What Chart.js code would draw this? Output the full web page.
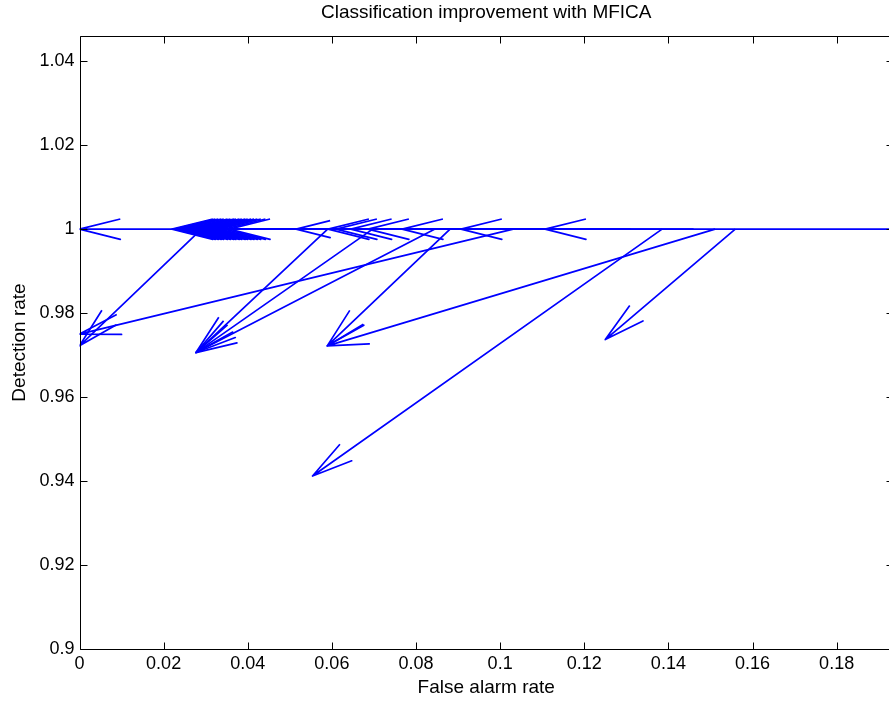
<!DOCTYPE html>
<html>
<head>
<meta charset="utf-8">
<title>Classification improvement with MFICA</title>
<script src="https://cdn.jsdelivr.net/npm/chart.js@4.4.1/dist/chart.umd.min.js"></script>
<style>
  html, body { margin: 0; padding: 0; background: #fff; overflow: hidden; }
  #wrap { position: absolute; left: 0; top: 0; width: 889px; height: 702px; overflow: hidden; }
</style>
</head>
<body>
<div id="wrap"><canvas id="quiver" width="896" height="702"></canvas></div>
<script>
// quiver data: each arrow goes from (tailX, tailY) to (tipX, tipY)
// first the arrows that stay on the 1.0 line, then the ones that drop
const tailX = [0.200,
               0.061, 0.064, 0.058, 0.070, 0.066, 0.073, 0.072, 0.081, 0.069, 0.077,
               0.084, 0.088, 0.079, 0.093, 0.091, 0.083, 0.068, 0.086, 0.075,
               0.076, 0.095, 0.098, 0.104, 0.112, 0.117, 0.131, 0.146,
               0.0290, 0.1031, 0.0590, 0.0697, 0.0844, 0.1511, 0.0881, 0.1385, 0.1559];
const tailY = [1,
               1, 1, 1, 1, 1, 1, 1, 1, 1, 1,
               1, 1, 1, 1, 1, 1, 1, 1, 1,
               1, 1, 1, 1, 1, 1, 1, 1,
               1, 1, 1, 1, 1, 1, 1, 1, 1];
const tipX  = [0,
               0.0220, 0.0226, 0.0233, 0.0240, 0.0246, 0.0255, 0.0262, 0.0270, 0.0275, 0.0283,
               0.0289, 0.0297, 0.0303, 0.0311, 0.0318, 0.0326, 0.0334, 0.0345, 0.0356,
               0.0515, 0.0591, 0.0610, 0.0645, 0.0686, 0.0767, 0.0907, 0.1107,
               0, 0, 0.0277, 0.0277, 0.0277, 0.0589, 0.0589, 0.0554, 0.1250];
const tipY  = [1,
               1, 1, 1, 1, 1, 1, 1, 1, 1, 1,
               1, 1, 1, 1, 1, 1, 1, 1, 1,
               1, 1, 1, 1, 1, 1, 1, 1,
               0.9722, 0.9750, 0.9706, 0.9706, 0.9706, 0.9722, 0.9722, 0.9412, 0.9737];

const xTickValues = [0, 0.02, 0.04, 0.06, 0.08, 0.1, 0.12, 0.14, 0.16, 0.18];
const xTickLabels = ['0', '0.02', '0.04', '0.06', '0.08', '0.1', '0.12', '0.14', '0.16', '0.18'];
const yTickValues = [0.9, 0.92, 0.94, 0.96, 0.98, 1, 1.02, 1.04];
const yTickLabels = ['0.9', '0.92', '0.94', '0.96', '0.98', '1', '1.02', '1.04'];

const X_MIN = 0, X_MAX = 0.1934;
const Y_MIN = 0.9, Y_MAX = 1.046;

// arrow head, in data units like quiver does it
const HEAD_MAX = 0.0097;
const HEAD_FRAC = 0.33;
const HEAD_HALF = 0.25;

const FONT = "'Liberation Sans', Arial, Helvetica, sans-serif";
const BLUE = '#0000ff';
const TICK_LEN = 7;

function arrowPoints(i) {
    const x0 = tailX[i], y0 = tailY[i], x1 = tipX[i], y1 = tipY[i];
    const dx = x1 - x0, dy = y1 - y0;
    const len = Math.hypot(dx, dy);
    const ux = dx / len, uy = dy / len;
    const h = Math.min(HEAD_MAX, HEAD_FRAC * len);
    const w = h * HEAD_HALF;
    const bx = x1 - h * ux, by = y1 - h * uy;
    return [
        { x: x0, y: y0 },
        { x: x1, y: y1 },
        { x: bx - w * uy, y: by + w * ux },
        { x: x1, y: y1 },
        { x: bx + w * uy, y: by - w * ux }
    ];
}

const datasets = tailX.map((_, i) => ({
    data: arrowPoints(i),
    showLine: true,
    borderColor: BLUE,
    borderWidth: 1.7,
    borderJoinStyle: 'round',
    pointRadius: 0,
    fill: false
}));

// matlab style box with inward ticks on all four sides
const boxPlugin = {
    id: 'matlabBox',
    afterDraw(chart) {
        const { ctx, chartArea: a, scales: { x, y } } = chart;
        ctx.save();
        ctx.strokeStyle = '#000';
        ctx.lineWidth = 1;
        ctx.beginPath();
        const l = Math.round(a.left) + 0.5, r = Math.round(a.right) + 0.5;
        const t = Math.round(a.top) + 0.5, b = Math.round(a.bottom) + 0.5;
        ctx.rect(l, t, r - l, b - t);
        x.ticks.forEach(tk => {
            const px = Math.round(x.getPixelForValue(tk.value)) + 0.5;
            ctx.moveTo(px, b); ctx.lineTo(px, b - TICK_LEN);
            ctx.moveTo(px, t); ctx.lineTo(px, t + TICK_LEN);
        });
        y.ticks.forEach(tk => {
            const py = Math.round(y.getPixelForValue(tk.value)) + 0.5;
            ctx.moveTo(l, py); ctx.lineTo(l + TICK_LEN, py);
            ctx.moveTo(r, py); ctx.lineTo(r - TICK_LEN, py);
        });
        ctx.stroke();
        ctx.restore();
    }
};

new Chart(document.getElementById('quiver'), {
    type: 'scatter',
    data: { datasets },
    options: {
        responsive: false,
        animation: false,
        layout: { padding: { left: 0, right: 3, top: 0, bottom: 0 } },
        plugins: {
            legend: { display: false },
            tooltip: { enabled: false },
            title: {
                display: true,
                fullSize: false,
                text: 'Classification improvement with MFICA',
                color: '#000',
                font: { family: FONT, size: 19, weight: 'normal' },
                padding: { top: 1, bottom: 12.2 }
            }
        },
        scales: {
            x: {
                type: 'linear',
                min: X_MIN,
                max: X_MAX,
                afterBuildTicks: s => { s.ticks = xTickValues.map(v => ({ value: v })); },
                afterFit: s => { s.height = 53; },
                grid: { display: false, drawTicks: false },
                border: { display: false },
                ticks: {
                    color: '#000',
                    font: { family: FONT, size: 18 },
                    padding: 4,
                    maxRotation: 0,
                    autoSkip: false,
                    callback: (v, i) => xTickLabels[i]
                },
                title: {
                    display: true,
                    text: 'False alarm rate',
                    color: '#000',
                    font: { family: FONT, size: 19 },
                    padding: { top: 0, bottom: 3 }
                }
            },
            y: {
                type: 'linear',
                min: Y_MIN,
                max: Y_MAX,
                afterBuildTicks: s => { s.ticks = yTickValues.map(v => ({ value: v })); },
                afterFit: s => { s.width = 79.5; },
                grid: { display: false, drawTicks: false },
                border: { display: false },
                ticks: {
                    color: '#000',
                    font: { family: FONT, size: 18 },
                    padding: 5,
                    autoSkip: false,
                    callback: (v, i) => yTickLabels[i]
                },
                title: {
                    display: true,
                    text: 'Detection rate',
                    color: '#000',
                    font: { family: FONT, size: 19 },
                    padding: { top: 8.6, bottom: 0 }
                }
            }
        }
    },
    plugins: [boxPlugin]
});
</script>
</body>
</html>
